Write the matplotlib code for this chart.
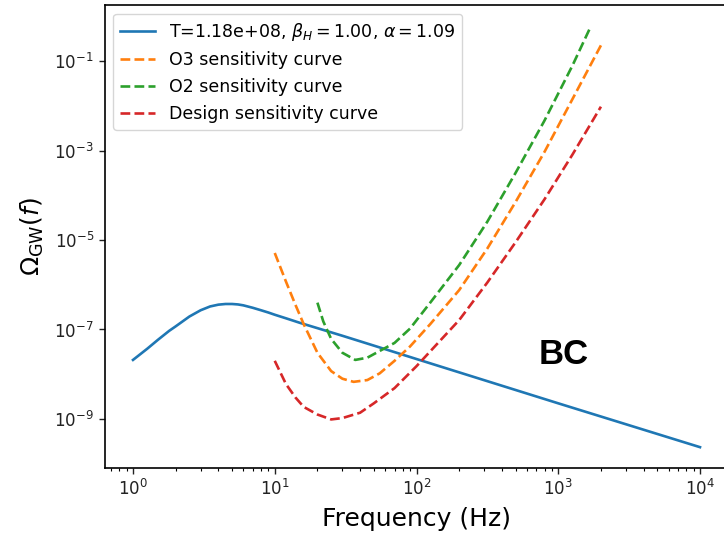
import numpy as np
import matplotlib
matplotlib.use("Agg")
import matplotlib.pyplot as plt
from matplotlib.ticker import LogLocator, NullLocator

# ---- data ----
blue_f = [1, 1.26, 1.5, 1.8, 2, 2.5, 3, 3.5, 4, 4.5, 5, 5.5, 6, 7, 8, 9, 10, 12, 15, 20,
          30, 50, 100, 1000, 10000]
blue_logomega = [-7.68, -7.43, -7.23, -7.03, -6.93, -6.71, -6.57, -6.485, -6.445, -6.43,
                 -6.43, -6.44, -6.46, -6.515, -6.57, -6.62, -6.67, -6.75, -6.85, -6.97,
                 -7.14, -7.36, -7.66, -8.65, -9.63]

o3_f = [10, 12, 14, 16, 20, 25, 30, 36, 45, 55, 70, 90, 125, 200, 316, 500, 800, 1260, 2000]
o3_logomega = [-5.29, -5.93, -6.45, -6.88, -7.52, -7.93, -8.10, -8.17, -8.13, -7.98,
               -7.70, -7.38, -6.88, -6.12, -5.19, -4.15, -3.03, -1.85, -0.65]

o2_f = [20, 22, 25, 30, 37, 45, 55, 70, 90, 125, 200, 316, 500, 800, 1260, 1700]
o2_logomega = [-6.40, -6.82, -7.21, -7.52, -7.68, -7.63, -7.48, -7.30, -6.98, -6.40,
               -5.56, -4.59, -3.50, -2.33, -1.10, -0.22]

design_f = [10, 12, 14, 16, 20, 25, 30, 40, 50, 70, 100, 200, 316, 500, 800, 1260, 2000]
design_logomega = [-7.70, -8.22, -8.52, -8.73, -8.90, -9.01, -8.98, -8.86, -8.65, -8.31,
                   -7.82, -6.79, -5.95, -5.05, -4.09, -3.09, -2.02]

labels = [r"T=1.18e+08, $\beta_H=1.00$, $\alpha=1.09$",
          "O3 sensitivity curve", "O2 sensitivity curve", "Design sensitivity curve"]

# ---- figure ----
W, H = 724, 537
fig = plt.figure(figsize=(W / 100, H / 100), dpi=100)
ax = fig.add_axes([104.65 / W, (H - 468.2) / H, 623.7 / W, (468.2 - 5.1) / H])

lw = 1.9
ax.plot(blue_f, 10 ** np.array(blue_logomega), color="#1f77b4", lw=lw, label=labels[0])
ax.plot(o3_f, 10 ** np.array(o3_logomega), color="#ff7f0e", lw=lw, ls="--", label=labels[1])
ax.plot(o2_f, 10 ** np.array(o2_logomega), color="#2ca02c", lw=lw, ls="--", label=labels[2])
ax.plot(design_f, 10 ** np.array(design_logomega), color="#d62728", lw=lw, ls="--", label=labels[3])

ax.set_xscale("log")
ax.set_yscale("log")
ax.set_xlim(10 ** -0.2, 10 ** 4.2)
ax.set_ylim(10 ** -10.1, 10 ** 0.25)

ax.set_yticks([1e-9, 1e-7, 1e-5, 1e-3, 1e-1])
ax.yaxis.set_minor_locator(NullLocator())
ax.xaxis.set_major_locator(LogLocator(base=10, numticks=20))
ax.xaxis.set_minor_locator(LogLocator(base=10, subs=np.arange(2, 10) * 1.0, numticks=20))

ax.tick_params(which="major", length=4.2, width=1.0, labelsize=12, colors="#222222")
ax.tick_params(which="minor", length=2.4, width=0.8)
for s in ax.spines.values():
    s.set_linewidth(1.2)

ax.set_xlabel("Frequency (Hz)", fontsize=18, labelpad=6)
ax.set_ylabel(r"$\Omega_{\rm GW}(f)$", fontsize=18, labelpad=6)

leg = ax.legend(loc="upper left", fontsize=12.5, frameon=True, framealpha=0.8,
                edgecolor="#cccccc", borderaxespad=0.5)

fig.text(564 / W, 1 - 354 / H, "BC", fontsize=25, fontweight="bold",
         family="Liberation Sans", ha="center", va="center")

fig.savefig("out.png", dpi=100)
